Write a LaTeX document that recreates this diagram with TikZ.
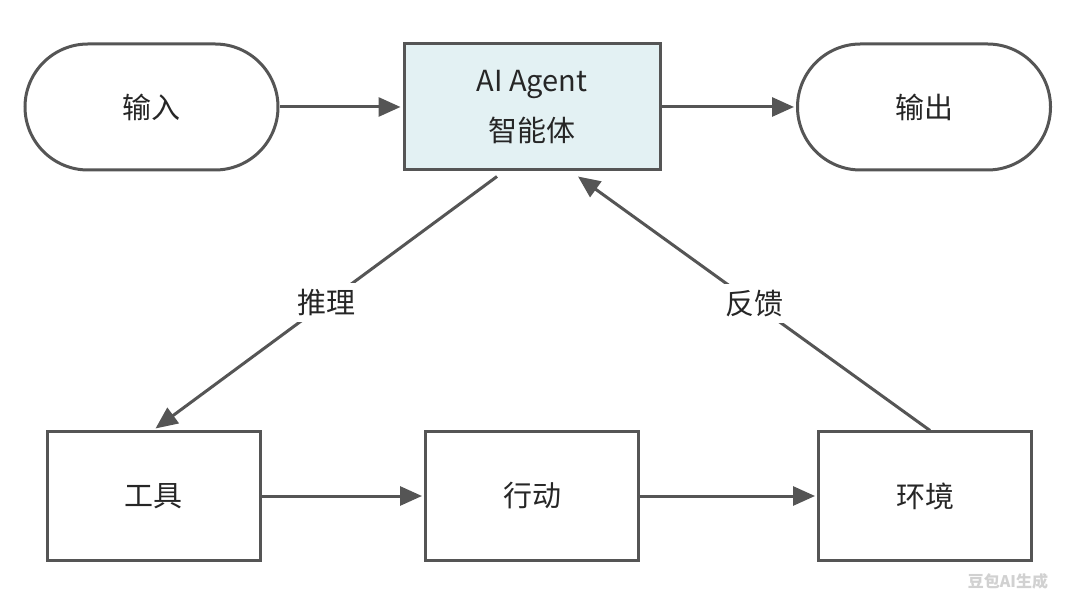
\documentclass[tikz,border=0pt]{standalone}
\usepackage{fontspec}
\setmainfont{Noto Sans CJK SC}
\usetikzlibrary{arrows.meta,positioning}
\definecolor{linec}{HTML}{555555}
\definecolor{agentfill}{HTML}{E3F1F3}
\tikzset{
  boxbase/.style={draw=linec, line width=1.5pt, text=black!85, font=\fontsize{14.5}{25}\selectfont, inner sep=0pt},
  stadium/.style={boxbase, rectangle, rounded corners=31.5pt, minimum width=126.5pt, minimum height=63pt},
  stepbox/.style={boxbase, rectangle, minimum width=106.5pt, minimum height=64pt},
  agentbox/.style={boxbase, rectangle, fill=agentfill, minimum width=128pt, minimum height=63pt, align=center},
  arr/.style={draw=linec, line width=1.5pt, -{Triangle[length=11pt,width=9.5pt]}},
  lbl/.style={fill=white, inner sep=3pt, text=black!85, font=\fontsize{14.5}{17}\selectfont}
}
\begin{document}
\begin{tikzpicture}[x=0.5pt,y=-0.5pt]
\path[fill=white, use as bounding box] (0,0) rectangle (1080,608);
\node[stadium] (in) at (151.5,107) {输入};
\node[agentbox] (agent) at (532,107) {AI Agent\\智能体};
\node[stadium] (out) at (924,107) {输出};
\node[stepbox] (tool) at (153.5,496) {工具};
\node[stepbox] (act) at (532,496) {行动};
\node[stepbox] (env) at (925,496) {环境};
\draw[arr] (in.east) -- ([xshift=-1pt]agent.west);
\draw[arr] (agent.east) -- ([xshift=-1pt]out.west);
\draw[arr] (tool.east) -- ([xshift=-1pt]act.west);
\draw[arr] (act.east) -- ([xshift=-1pt]env.west);
\draw[arr] ([xshift=-17.5pt,yshift=-2.5pt]agent.south) -- node[lbl]{推理} ([xshift=1pt,yshift=1pt]tool.north);
\draw[arr] ([xshift=2.5pt]env.north) -- node[lbl]{反馈} ([xshift=23pt,yshift=-2.5pt]agent.south);
\node[text=black!18, font=\bfseries\fontsize{8}{9}\selectfont] (wm) at (1008,581) {豆包AI生成};
\end{tikzpicture}
\end{document}
